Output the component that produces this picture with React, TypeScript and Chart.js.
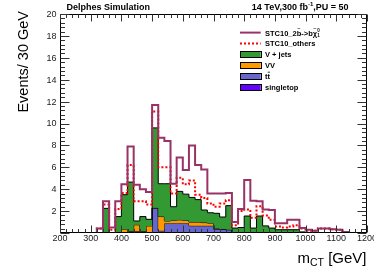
import { useEffect, useRef } from "react";
import { Chart, registerables } from "chart.js";
Chart.register(...registerables);

// lower bin edges (GeV)
const binLowEdges = [
  200, 220, 240, 260, 280, 300, 320, 340, 360, 380,
  400, 420, 440, 460, 480, 500, 520, 540, 560, 580,
  600, 620, 640, 660, 680, 700, 720, 740, 760, 780,
  800, 820, 840, 860, 880, 900, 920, 940, 960, 980,
  1000, 1020, 1040, 1060, 1080, 1100, 1120, 1140, 1160, 1180,
];
const xMax = 1200;

// stacked backgrounds (per component)
const singletop = [
  0, 0, 0, 0, 0, 0, 0, 0, 0, 0,
  0, 0, 0, 0, 0, 0, 0, 0, 0, 0,
  0, 0, 0, 0, 0, 0, 0, 0, 0, 0,
  0, 0, 0, 0, 0, 0, 0, 0, 0, 0,
  0, 0, 0, 0, 0, 0, 0, 0, 0, 0,
];
const ttbar = [
  0, 0, 0, 0, 0, 0, 0, 0, 0, 0.1,
  0.1, 0.1, 0.15, 0.1, 0.1, 2.25, 0.2, 0.9, 0.9, 0.9,
  0.9, 0.66, 0.66, 0.66, 0.66, 0.36, 0.36, 0.3, 0, 0,
  0, 0, 0, 0, 0, 0, 0, 0, 0, 0,
  0, 0, 0, 0, 0, 0, 0, 0, 0, 0,
];
const vv = [
  0, 0, 0, 0, 0, 0, 0, 0, 0, 0,
  0.25, 0.05, 0.6, 0.05, 0.55, 0.05, 1.3, 0.2, 0.25, 0.3,
  0.25, 0.34, 0.34, 0.29, 0.24, 0.04, 0, 0, 0, 0,
  0, 0, 0, 0, 0, 0, 0, 0, 0, 0,
  0, 0, 0, 0, 0, 0, 0, 0, 0, 0,
];
const vjets = [
  0, 0, 0, 0, 0, 0, 0, 2.25, 0, 1.4,
  3.15, 4.5, 0.35, 1.35, 0.6, 7.3, 3.0, 3.4, 1.25, 2.6,
  2.4, 2.25, 2.05, 1.15, 0.95, 1.4, 1.1, 2.2, 0.45, 0.5,
  1.55, 0.45, 1.55, 0.65, 0.45, 0.3, 0.3, 0.3, 0.3, 0.1,
  0.05, 0, 0, 0, 0, 0, 0, 0, 0, 0,
];
// line histograms (drawn heights)
const othersLine = [
  0, 0, 0, 0, 0, 0, 0.4, 2.6, 0.3, 2.2,
  3.65, 6.2, 2.9, 2.9, 2.6, 11.1, 6.0, 6.0, 3.6, 5.05,
  4.45, 4.8, 3.5, 3.2, 2.7, 2.4, 2.7, 3.0, 0.7, 2.0,
  2.15, 1.4, 2.45, 1.6, 1.2, 0.6, 0.5, 0.6, 0.7, 0.4,
  0.2, 0.2, 0.4, 0.4, 0.35, 0.3, 0.1, 0, 0, 0,
];
const signalLine = [
  0, 0, 0, 0, 0, 0, 0.4, 2.9, 0.5, 2.9,
  4.45, 7.9, 4.4, 4.0, 3.75, 11.7, 8.7, 8.4, 4.5, 6.9,
  5.75, 8.0, 6.2, 5.8, 3.6, 3.6, 3.6, 3.65, 1.0, 2.2,
  4.85, 2.95, 2.9, 2.15, 2.1, 0.9, 0.9, 1.2, 1.2, 0.45,
  0.3, 0.2, 0.4, 0.4, 0.35, 0.3, 0.1, 0, 0, 0,
];

const yTickLabels = ["2", "4", "6", "8", "10", "12", "14", "16", "18", "20"];
const xTickLabels = ["200", "300", "400", "500", "600", "700", "800", "900", "1000", "1100", "1200"];

const COL_SIG = "#993366";
const COL_OTH = "#ff0000";
const COL_VJ = "#339933";
const COL_VV = "#ff9900";
const COL_TT = "#6666cc";
const COL_ST = "#6600ff";

const FONT = '"Liberation Sans", Arial, Helvetica, sans-serif';

function addArrays(a: number[], b: number[]) {
  return a.map((v, i) => v + b[i]);
}
function toPoints(vals: number[]) {
  const pts = binLowEdges.map((x, i) => ({ x, y: vals[i] }));
  pts.push({ x: xMax, y: vals[vals.length - 1] });
  return pts;
}

const rootPlugin = {
  id: "rootFrame",
  afterDraw(chart: any) {
    const { ctx, chartArea: a, scales } = chart;
    const xs = scales.x;
    const ys = scales.y;
    const L = Math.floor(a.left) + 0.5;
    const R = Math.ceil(a.right) - 0.5;
    const T = Math.floor(a.top) + 0.5;
    const B = Math.ceil(a.bottom) - 0.5;
    ctx.save();
    ctx.strokeStyle = "#000";
    ctx.lineWidth = 1;
    ctx.beginPath();
    ctx.rect(L, T, R - L, B - T);
    ctx.stroke();

    // y ticks
    ctx.strokeStyle = "#333";
    ctx.beginPath();
    for (let k = 0; k <= 50; k++) {
      const v = k * 0.4;
      const y = Math.round(ys.getPixelForValue(v)) + 0.5;
      const len = k % 5 === 0 ? 9 : 4.5;
      ctx.moveTo(L, y);
      ctx.lineTo(L + len, y);
      ctx.moveTo(R, y);
      ctx.lineTo(R - len, y);
    }
    // x ticks
    for (let k = 0; k <= 50; k++) {
      const v = 200 + k * 20;
      const x = Math.round(xs.getPixelForValue(v)) + 0.5;
      const len = k % 5 === 0 ? 7 : 3.5;
      ctx.moveTo(x, B);
      ctx.lineTo(x, B - len);
      ctx.moveTo(x, T);
      ctx.lineTo(x, T + len);
    }
    ctx.stroke();

    // tick labels
    ctx.fillStyle = "#222";
    ctx.font = `9px ${FONT}`;
    ctx.textAlign = "right";
    ctx.textBaseline = "middle";
    yTickLabels.forEach((t) => {
      ctx.fillText(t, a.left - 3.5, ys.getPixelForValue(Number(t)) + 0.5);
    });
    ctx.textAlign = "center";
    ctx.textBaseline = "middle";
    xTickLabels.forEach((t) => {
      ctx.fillText(t, xs.getPixelForValue(Number(t)), a.bottom + 6);
    });

    // axis titles
    ctx.fillStyle = "#000";
    ctx.save();
    ctx.translate(28, 11);
    ctx.rotate(-Math.PI / 2);
    ctx.font = `14.5px ${FONT}`;
    ctx.textAlign = "right";
    ctx.textBaseline = "alphabetic";
    ctx.fillText("Events/ 30 GeV", 0, 0);
    ctx.restore();

    // x title m_CT [GeV]
    {
      const big = `15px ${FONT}`;
      const small = `10.5px ${FONT}`;
      ctx.textAlign = "left";
      ctx.textBaseline = "alphabetic";
      ctx.font = big;
      const wM = ctx.measureText("m").width;
      const wG = ctx.measureText(" [GeV]").width;
      ctx.font = small;
      const wC = ctx.measureText("CT").width;
      let x = 366.5 - (wM + wC + wG);
      const base = 262.5;
      ctx.font = big;
      ctx.fillText("m", x, base);
      x += wM;
      ctx.font = small;
      ctx.fillText("CT", x, base + 3.5);
      x += wC;
      ctx.font = big;
      ctx.fillText(" [GeV]", x, base);
    }

    // header texts
    ctx.font = `bold 9px ${FONT}`;
    ctx.textAlign = "left";
    ctx.fillText("Delphes Simulation", 66.5, 9.5);
    {
      const p1 = "14 TeV,300 fb";
      const sup = "-1";
      const p2 = ",PU = 50";
      const f = `bold 9px ${FONT}`;
      const fs = `bold 6px ${FONT}`;
      ctx.font = f;
      const w1 = ctx.measureText(p1).width;
      const w3 = ctx.measureText(p2).width;
      ctx.font = fs;
      const w2 = ctx.measureText(sup).width;
      let x = 348.5 - (w1 + w2 + w3);
      ctx.font = f;
      ctx.fillText(p1, x, 9.5);
      x += w1;
      ctx.font = fs;
      ctx.fillText(sup, x, 5.5);
      x += w2;
      ctx.font = f;
      ctx.fillText(p2, x, 9.5);
    }

    // legend
    const lx0 = 240;
    const lx1 = 260.7;
    const tx = 265;
    const row0 = 32.6;
    const dy = 10.95;
    const lf = `bold 7.5px ${FONT}`;
    ctx.textBaseline = "middle";
    // signal
    ctx.strokeStyle = COL_SIG;
    ctx.lineWidth = 2;
    ctx.setLineDash([]);
    ctx.beginPath();
    ctx.moveTo(lx0, row0);
    ctx.lineTo(lx1, row0);
    ctx.stroke();
    {
      let x = tx;
      const y = row0 + 1;
      ctx.font = lf;
      ctx.fillStyle = "#000";
      const segs: [string, boolean][] = [
        ["STC10_2", false],
        ["b", true],
        ["->b", false],
        ["\u03C7", true],
      ];
      segs.forEach(([s, tilde]) => {
        ctx.font = lf;
        const w = ctx.measureText(s).width;
        ctx.fillText(s, x, y);
        if (tilde) {
          ctx.font = `5.5px ${FONT}`;
          ctx.textAlign = "center";
          ctx.fillText("~", x + w / 2, y - 5);
          ctx.textAlign = "left";
        }
        x += w;
      });
      ctx.font = `bold 4.5px ${FONT}`;
      ctx.fillText("0", x + 0.3, y - 3.2);
      ctx.fillText("1", x + 0.3, y + 2.2);
    }
    // others
    ctx.strokeStyle = COL_OTH;
    ctx.lineWidth = 2;
    ctx.setLineDash([2, 2]);
    ctx.beginPath();
    ctx.moveTo(lx0, row0 + dy);
    ctx.lineTo(lx1, row0 + dy);
    ctx.stroke();
    ctx.setLineDash([]);
    ctx.font = lf;
    ctx.fillStyle = "#000";
    ctx.fillText("STC10_others", tx, row0 + dy + 0.5);

    const boxes: [string, string][] = [
      [COL_VJ, "V + jets"],
      [COL_VV, "VV"],
      [COL_TT, "tt"],
      [COL_ST, "singletop"],
    ];
    boxes.forEach(([c, label], i) => {
      const cy = row0 + dy * (i + 2);
      ctx.fillStyle = c;
      ctx.fillRect(lx0, cy - 3.3, lx1 - lx0, 6.6);
      ctx.strokeStyle = "#000";
      ctx.lineWidth = 1;
      ctx.strokeRect(Math.round(lx0) + 0.5, Math.round(cy - 3.3) + 0.5, Math.round(lx1 - lx0), 6);
      ctx.fillStyle = "#000";
      ctx.font = lf;
      ctx.fillText(label, tx, cy + 0.5);
      if (label === "tt") {
        const wt = ctx.measureText("t").width;
        ctx.strokeStyle = "#000";
        ctx.lineWidth = 0.8;
        ctx.beginPath();
        ctx.moveTo(tx + wt + 0.2, cy - 4.2);
        ctx.lineTo(tx + 2 * wt, cy - 4.2);
        ctx.stroke();
      }
    });
    ctx.restore();
  },
};

export default function App() {
  const ref = useRef<HTMLCanvasElement | null>(null);
  useEffect(() => {
    if (!ref.current) return;
    const stTop = singletop.slice();
    const ttTop = addArrays(stTop, ttbar);
    const vvTop = addArrays(ttTop, vv);
    const vjTop = addArrays(vvTop, vjets);
    const common = {
      stepped: true as const,
      pointRadius: 0,
      pointHoverRadius: 0,
      tension: 0,
    };
    const chart = new Chart(ref.current, {
      type: "line",
      data: {
        datasets: [
          {
            ...common,
            label: "signal",
            data: toPoints(signalLine),
            borderColor: COL_SIG,
            borderWidth: 2,
            fill: false,
          },
          {
            ...common,
            label: "others",
            data: toPoints(othersLine),
            borderColor: COL_OTH,
            borderWidth: 2,
            borderDash: [2, 2],
            fill: false,
          },
          {
            ...common,
            label: "V + jets",
            data: toPoints(vjTop),
            borderColor: "#000",
            borderWidth: 1,
            backgroundColor: COL_VJ,
            fill: "+1",
          },
          {
            ...common,
            label: "VV",
            data: toPoints(vvTop),
            borderColor: "#000",
            borderWidth: 1,
            backgroundColor: COL_VV,
            fill: "+1",
          },
          {
            ...common,
            label: "tt",
            data: toPoints(ttTop),
            borderColor: "#000",
            borderWidth: 1,
            backgroundColor: COL_TT,
            fill: "+1",
          },
          {
            ...common,
            label: "singletop",
            data: toPoints(stTop),
            borderColor: "#000",
            borderWidth: 1,
            backgroundColor: COL_ST,
            fill: "origin",
          },
        ],
      },
      options: {
        animation: false,
        responsive: true,
        maintainAspectRatio: false,
        layout: { padding: { left: 60, right: 7, top: 14, bottom: 35 } },
        scales: {
          x: { type: "linear", min: 200, max: 1200, display: false },
          y: { type: "linear", min: 0, max: 20, display: false },
        },
        plugins: {
          legend: { display: false },
          tooltip: { enabled: false },
          title: { display: false },
        },
        events: [],
      },
      plugins: [rootPlugin],
    });
    return () => chart.destroy();
  }, []);
  return (
    <div style={{ position: "fixed", left: 0, top: 0, width: 374, height: 268, background: "#fff" }}>
      <canvas ref={ref} style={{ display: "block" }} />
    </div>
  );
}
